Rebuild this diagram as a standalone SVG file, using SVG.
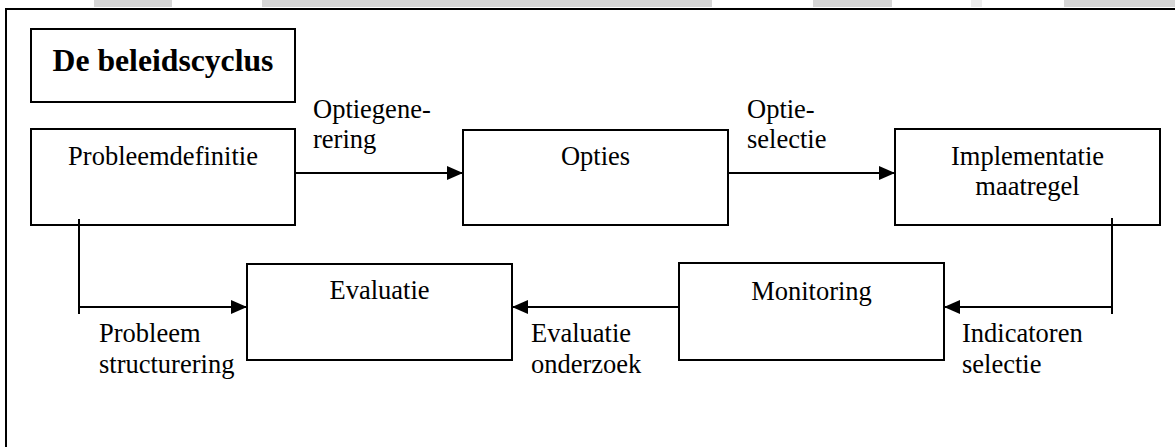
<svg xmlns="http://www.w3.org/2000/svg" width="1175" height="447" viewBox="0 0 1175 447">
  <style>
    .box { fill: #ffffff; stroke: #000000; stroke-width: 2; }
    .conn { fill: none; stroke: #000000; stroke-width: 2; }
    .t { font-family: "Liberation Serif", "Times New Roman", serif; font-size: 26.5px; fill: #000000; }
    .c { text-anchor: middle; }
    .title { font-family: "Liberation Serif", "Times New Roman", serif; font-size: 31.7px; font-weight: bold; fill: #000000; text-anchor: middle; }
    .strip { fill: #d6d6d6; }
  </style>
  <defs>
    <marker id="arr" viewBox="0 0 16 14" refX="16" refY="7" markerWidth="16" markerHeight="14" markerUnits="userSpaceOnUse" orient="auto">
      <path d="M0,0 L16,7 L0,14 Z" fill="#000000"/>
    </marker>
  </defs>
  <rect width="1175" height="447" fill="#ffffff"/>
  <g id="strip">
    <rect class="strip" x="94" y="0" width="78" height="7"/>
    <rect class="strip" x="262" y="0" width="450" height="7"/>
    <rect class="strip" x="813" y="0" width="79" height="7"/>
    <rect x="971" y="0" width="11" height="7" fill="#ececec"/>
    <rect class="strip" x="1064" y="0" width="111" height="7"/>
  </g>
  <rect id="frame" x="6" y="9" width="1200" height="500" fill="none" stroke="#000000" stroke-width="2"/>

  <g id="connectors">
    <line class="conn" x1="295" y1="173" x2="463" y2="173" marker-end="url(#arr)"/>
    <line class="conn" x1="728" y1="173" x2="895" y2="173" marker-end="url(#arr)"/>
    <polyline class="conn" points="1112,218 1112,314"/>
    <line class="conn" x1="1112" y1="307" x2="944" y2="307" marker-end="url(#arr)"/>
    <line class="conn" x1="679" y1="307" x2="512" y2="307" marker-end="url(#arr)"/>
    <polyline class="conn" points="79,219 79,314"/>
    <line class="conn" x1="79" y1="307" x2="247" y2="307" marker-end="url(#arr)"/>
  </g>

  <g id="title">
    <rect class="box" x="31" y="29" width="264" height="73"/>
    <text class="title" x="163" y="71">De beleidscyclus</text>
  </g>
  <g id="probleemdefinitie">
    <rect class="box" x="31" y="129" width="264" height="96" style="fill:none"/>
    <text class="t c" x="163" y="165">Probleemdefinitie</text>
  </g>
  <g id="opties">
    <rect class="box" x="463" y="130" width="265" height="95"/>
    <text class="t c" x="595.5" y="165">Opties</text>
  </g>
  <g id="implementatie">
    <rect class="box" x="895" y="129" width="265" height="96" style="fill:none"/>
    <text class="t c" x="1027.5" y="165">Implementatie</text>
    <text class="t c" x="1027.5" y="195">maatregel</text>
  </g>
  <g id="monitoring">
    <rect class="box" x="679" y="263" width="265" height="97"/>
    <text class="t c" x="811.5" y="300">Monitoring</text>
  </g>
  <g id="evaluatie">
    <rect class="box" x="247" y="264" width="265" height="96"/>
    <text class="t c" x="379.5" y="299">Evaluatie</text>
  </g>

  <g id="labels">
    <text class="t" x="313" y="118">Optiegene-</text>
    <text class="t" x="313" y="148">rering</text>
    <text class="t" x="747" y="118">Optie-</text>
    <text class="t" x="747" y="148">selectie</text>
    <text class="t" x="99" y="342">Probleem</text>
    <text class="t" x="99" y="373">structurering</text>
    <text class="t" x="531" y="342">Evaluatie</text>
    <text class="t" x="531" y="373">onderzoek</text>
    <text class="t" x="962" y="342">Indicatoren</text>
    <text class="t" x="962" y="373">selectie</text>
  </g>
</svg>
